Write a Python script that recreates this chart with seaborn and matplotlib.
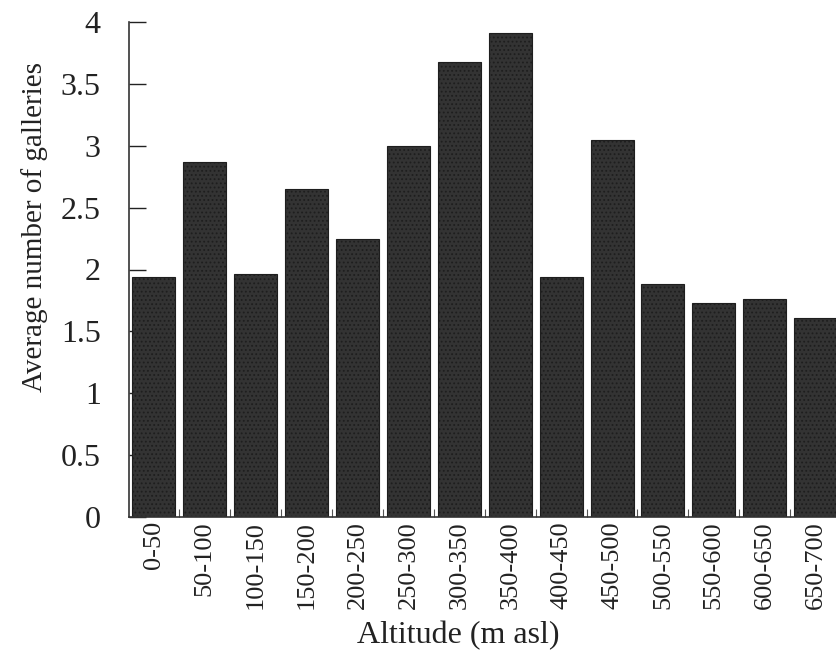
import matplotlib
matplotlib.use("Agg")
import matplotlib.pyplot as plt
import seaborn as sns
import pandas as pd
from matplotlib.ticker import FixedLocator

# valores
faixas = ['0-50', '50-100', '100-150', '150-200', '200-250', '250-300', '300-350',
          '350-400', '400-450', '450-500', '500-550', '550-600', '600-650', '650-700']
media_galerias = [1.94, 2.87, 1.96, 2.65, 2.25, 3.00, 3.68,
                  3.91, 1.94, 3.05, 1.88, 1.73, 1.76, 1.61]
ticks_y = [0, 0.5, 1, 1.5, 2, 2.5, 3, 3.5, 4]

df = pd.DataFrame({'altitude': faixas, 'galerias': media_galerias})

sns.set_style('ticks')
plt.rcParams['font.family'] = ['Liberation Serif', 'DejaVu Serif']
plt.rcParams['hatch.color'] = '#b8b8b8'
plt.rcParams['hatch.linewidth'] = 0.8

fig = plt.figure(figsize=(8.36, 6.59), dpi=100)
ax = fig.add_axes([128.5 / 836, 1 - 517 / 659, 1 - 128.5 / 836, (517 - 22) / 659])

sns.barplot(data=df, x='altitude', y='galerias', color='#333333', saturation=1,
            width=0.845, ax=ax)
for p in ax.patches:
    p.set_hatch('....')
    p.set_edgecolor('#1e1e1e')
    p.set_linewidth(0.8)

ax.set_ylim(0, 4)
ax.set_xlim(-0.5, 13.4)
ax.set_yticks(ticks_y)
ax.set_yticklabels(['0', '0.5', '1', '1.5', '2', '2.5', '3', '3.5', '4'])

# ticks do eixo y para dentro
ax.tick_params(axis='y', direction='in', length=12, width=1, pad=20,
               labelsize=23, colors='#222222')
# x: sem marcas nos rótulos, marcas pequenas entre barras
ax.tick_params(axis='x', which='major', length=0, pad=3, labelsize=19,
               labelrotation=90, colors='#222222')
ax.xaxis.set_minor_locator(FixedLocator([i + 0.5 for i in range(13)]))
ax.tick_params(axis='x', which='minor', direction='in', length=6, width=0.8,
               color='#555555')

ax.set_xlabel('Altitude (m asl)', fontsize=23, color='#222222')
ax.set_ylabel('Average number of galleries', fontsize=21, color='#222222')
ax.xaxis.set_label_coords(0.466, -0.21)
ax.yaxis.set_label_coords(-0.114, 0.586)

for s in ['top', 'right']:
    ax.spines[s].set_visible(False)
for s in ['left', 'bottom']:
    ax.spines[s].set_linewidth(1.2)
    ax.spines[s].set_color('#333333')

fig.savefig('out.png', dpi=100)
